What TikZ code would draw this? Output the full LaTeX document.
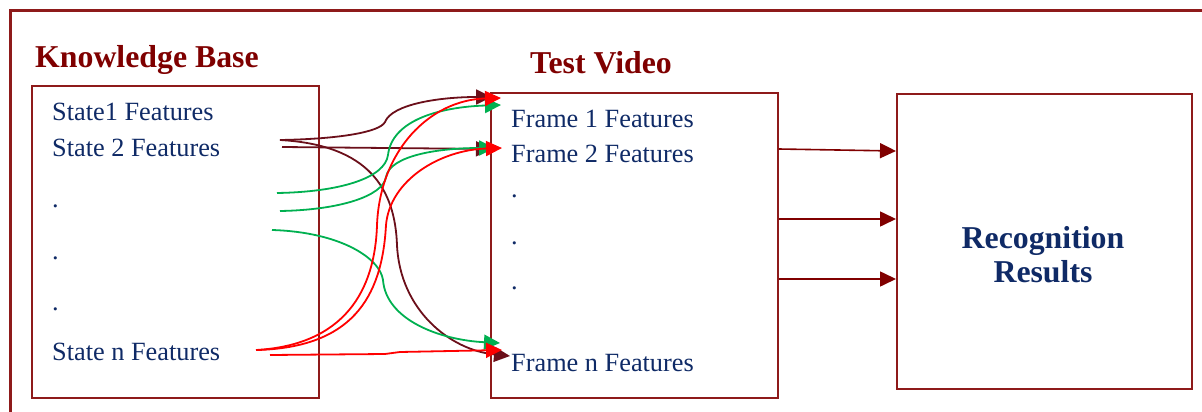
\documentclass[tikz,border=0pt]{standalone}
\usepackage{fontspec}
\setmainfont{Liberation Serif}
\usetikzlibrary{arrows.meta}
\definecolor{framered}{HTML}{8E1A1A}
\definecolor{titlered}{HTML}{7F0000}
\definecolor{textblue}{HTML}{0F2A66}
\definecolor{linkbrown}{HTML}{6B0F1A}
\definecolor{linkgreen}{HTML}{00B050}
\definecolor{linkred}{HTML}{FF0000}
\definecolor{arrowred}{HTML}{800000}
\tikzset{
  panel/.style={draw=framered, line width=1.8pt},
  title/.style={font=\fontsize{31.8}{36}\selectfont\bfseries, text=titlered, anchor=base west, inner sep=0},
  item/.style={font=\fontsize{26.3}{30}\selectfont, text=textblue, anchor=base west, inner sep=0},
  tip/.style={-{Triangle[length=16pt,width=15pt]}},
  link/.style={line width=1.8pt, tip},
}
\begin{document}
\begin{tikzpicture}[x=1pt,y=-1pt]
\useasboundingbox (0,0) rectangle (1202,412);
% outer frame
\draw[framered, line width=3pt] (10,414) -- (10,11) -- (1204,11);

% knowledge base
\node[title] (kbt) at (35,67) {Knowledge Base};
\node[panel, minimum width=287pt, minimum height=312pt, anchor=north west] (kb) at (31,85) {};
\node[item] (s1) at (52,120) {State1 Features};
\node[item] (s2) at (52,156) {State 2 Features};
\node[item] (d1) at (52,207) {.};
\node[item] (d2) at (52,259) {.};
\node[item] (d3) at (52,310) {.};
\node[item] (sn) at (52,360) {State n Features};

% test video
\node[title] (tvt) at (530,74) {Test Video};
\node[panel, minimum width=287pt, minimum height=305pt, anchor=north west] (tv) at (490,92) {};
\node[item] (f1) at (511,127) {Frame 1 Features};
\node[item] (f2) at (511,162) {Frame 2 Features};
\node[item] (e1) at (511,197) {.};
\node[item] (e2) at (511,244) {.};
\node[item] (e3) at (511,289) {.};
\node[item] (fn) at (511,371) {Frame n Features};

% recognition results
\node[panel, minimum width=295pt, minimum height=295pt, anchor=north west] (rr) at (896,93) {};
\node[font=\fontsize{31.8}{36}\selectfont\bfseries, text=textblue, align=center] (rrt) at (1043,255) {Recognition\\[-2pt]Results};

% link end points
\coordinate (a1) at (280,140);
\coordinate (a2) at (282,147);
\coordinate (g1) at (277,193);
\coordinate (g2) at (280,211);
\coordinate (g3) at (272,230);
\coordinate (r1) at (256,350);
\coordinate (r2) at (258,350);
\coordinate (r3) at (270,355);
\coordinate (t1) at (492,97);
\coordinate (t2) at (492,149);
\coordinate (tn) at (510,356);
\coordinate (u1) at (501,105);
\coordinate (u2) at (495,148);
\coordinate (un) at (500,343);
\coordinate (v1) at (501,98);
\coordinate (v2) at (502,148);
\coordinate (vn) at (502,350);

% brown links
\draw[link, linkbrown] (a1) .. controls (340,139) and (380,132) .. (385,122)
  .. controls (392,104) and (440,97) .. (t1);
\draw[link, linkbrown] (a2) -- (t2);
\draw[link, linkbrown] (a1) .. controls (370,145) and (395,190) .. (397,245)
  .. controls (400,310) and (450,350) .. (tn);

% green links
\draw[link, linkgreen] (g1) .. controls (340,192) and (385,178) .. (388,155)
  .. controls (392,120) and (440,107) .. (u1);
\draw[link, linkgreen] (g2) .. controls (340,210) and (383,196) .. (386,177)
  .. controls (390,155) and (440,148) .. (u2);
\draw[link, linkgreen] (g3) .. controls (340,232) and (380,258) .. (383,280)
  .. controls (386,320) and (440,340) .. (un);

% red links
\draw[link, linkred] (r1) .. controls (345,345) and (375,290) .. (377,225)
  .. controls (380,150) and (430,100) .. (v1);
\draw[link, linkred] (r2) .. controls (350,347) and (382,300) .. (386,225)
  .. controls (390,180) and (440,150) .. (v2);
\draw[link, linkred] (r3) -- (385,354) -- (400,352) -- (vn);

% outputs to recognition results
\draw[line width=1.6pt, arrowred, tip] (tv.east |- 0,149) -- (rr.west |- 0,151);
\draw[line width=1.6pt, arrowred, tip] (tv.east |- 0,219) -- (rr.west |- 0,219);
\draw[line width=1.6pt, arrowred, tip] (tv.east |- 0,279) -- (rr.west |- 0,279);
\end{tikzpicture}
\end{document}
